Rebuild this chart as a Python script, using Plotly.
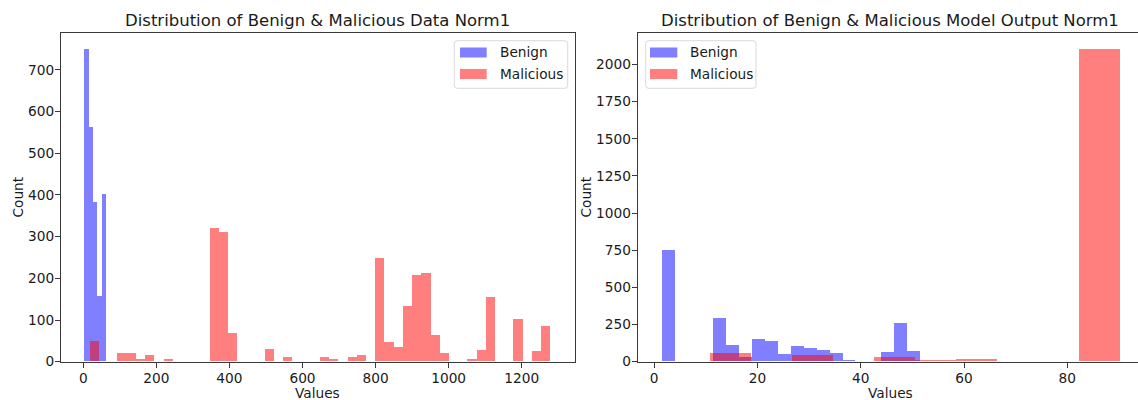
import numpy as np
import plotly.graph_objects as go

# ---------------- data ----------------
# Left panel: "Data Norm1"
data_benign_range = (2.7, 62.1)
data_benign_counts = [750, 562, 382, 156, 402]
data_mal_range = (18.0, 1278.0)
data_mal_counts = [50, 0, 0, 21, 19, 6, 16, 0, 6, 0,
                   0, 0, 0, 319, 310, 68, 0, 0, 0, 29,
                   0, 10, 0, 0, 0, 10, 6, 0, 11, 15,
                   0, 247, 46, 34, 134, 208, 211, 63, 19, 0,
                   0, 6, 27, 155, 0, 0, 102, 0, 24, 86]

# Right panel: "Model Output Norm1"
out_benign_range = (1.42, 51.42)
out_benign_counts = [749, 0, 0, 0, 289, 110, 29, 153, 135, 49,
                     105, 90, 76, 58, 7, 0, 4, 65, 258, 72]
out_mal_range = (10.65, 90.1)
out_mal_counts = [54, 0, 43, 0, 29, 11, 15, 0, 0, 2105]

left_title = "Distribution of Benign & Malicious Data Norm1"
right_title = "Distribution of Benign & Malicious Model Output Norm1"
series_names = ["Benign", "Malicious"]
x_label = "Values"
y_label = "Count"
left_xticks = [0, 200, 400, 600, 800, 1000, 1200]
left_yticks = [0, 100, 200, 300, 400, 500, 600, 700]
right_xticks = [0, 20, 40, 60, 80]
right_yticks = [0, 250, 500, 750, 1000, 1250, 1500, 1750, 2000]

# ---------------- styling ----------------
W, H = 1138, 400
BLUE = "rgba(0,0,255,0.5)"
RED = "rgba(255,0,0,0.5)"
FONT = "DejaVu Sans"
TXT = "#1a1a1a"
AX = "#3a3a3a"
TICK_FS = 13.7
LABEL_FS = 13.7
TITLE_FS = 16.5


def hist_bar(rng, counts, color, xa, ya):
    edges = np.linspace(rng[0], rng[1], len(counts) + 1)
    centers = (edges[:-1] + edges[1:]) / 2
    widths = np.diff(edges)
    return go.Bar(x=centers, y=counts, width=widths, xaxis=xa, yaxis=ya,
                  marker=dict(color=color, line=dict(width=0)),
                  showlegend=False, hoverinfo="skip")


fig = go.Figure()
fig.add_trace(hist_bar(data_benign_range, data_benign_counts, BLUE, "x", "y"))
fig.add_trace(hist_bar(data_mal_range, data_mal_counts, RED, "x", "y"))
fig.add_trace(hist_bar(out_benign_range, out_benign_counts, BLUE, "x2", "y2"))
fig.add_trace(hist_bar(out_mal_range, out_mal_counts, RED, "x2", "y2"))

# pixel geometry of the axes boxes
L1, R1 = 61.0, 574.7
L2, R2 = 637.7, 1138.0
TOP, BOT = 33.3, 361.7

ydom = [1 - BOT / H, 1 - TOP / H]

axis_common = dict(showgrid=False, zeroline=False, showline=True, linecolor=AX,
                   linewidth=1, ticks="outside", ticklen=5, tickwidth=1,
                   tickcolor=AX, automargin=False,
                   tickfont=dict(family=FONT, size=TICK_FS, color=TXT))
x_common = dict(ticklabelstandoff=-1, **axis_common)
y_common = dict(ticklabelstandoff=-2, **axis_common)

fig.update_layout(
    width=W, height=H,
    margin=dict(l=0, r=0, t=0, b=0, autoexpand=False),
    paper_bgcolor="white", plot_bgcolor="white",
    barmode="overlay", bargap=0,
    font=dict(family=FONT, color=TXT),
    xaxis=dict(domain=[L1 / W, R1 / W], range=[-61, 1345], tickvals=left_xticks,
               mirror=True, anchor="y", **x_common),
    yaxis=dict(domain=ydom, range=[0, 787.5], tickvals=left_yticks,
               mirror=True, anchor="x", **y_common),
    xaxis2=dict(domain=[L2 / W, R2 / W], range=[-3.2, 93.7], tickvals=right_xticks,
                mirror=True, anchor="y2", **x_common),
    yaxis2=dict(domain=ydom, range=[0, 2210], tickvals=right_yticks,
                mirror=False, anchor="x2", **y_common),
)

ann = []


def add_text(px, py, text, size, angle=0, xanchor="center"):
    ann.append(dict(x=px / W, y=1 - py / H, xref="paper", yref="paper",
                    text=text, showarrow=False, textangle=angle,
                    xanchor=xanchor, yanchor="middle",
                    font=dict(family=FONT, size=size, color=TXT)))


# titles
add_text((L1 + R1) / 2, 21, left_title, TITLE_FS)
add_text(890, 21, right_title, TITLE_FS)
# axis labels
add_text((L1 + R1) / 2, 393, x_label, LABEL_FS)
add_text(890, 393, x_label, LABEL_FS)
add_text(17, (TOP + BOT) / 2, y_label, LABEL_FS, angle=-90)
add_text(585, (TOP + BOT) / 2, y_label, LABEL_FS, angle=-90)

shapes = []


def rounded_rect(x0, y0, x1, y1, r=3):
    # pixel coords -> paper coords path with rounded corners
    def P(x, y):
        return f"{x / W:.5f},{1 - y / H:.5f}"
    return (f"M{P(x0 + r, y0)} L{P(x1 - r, y0)} Q{P(x1, y0)} {P(x1, y0 + r)} "
            f"L{P(x1, y1 - r)} Q{P(x1, y1)} {P(x1 - r, y1)} "
            f"L{P(x0 + r, y1)} Q{P(x0, y1)} {P(x0, y1 - r)} "
            f"L{P(x0, y0 + r)} Q{P(x0, y0)} {P(x0 + r, y0)} Z")


def legend(bx0, bx1, by0, by1, patch_x0, patch_x1, text_x, rows_y):
    shapes.append(dict(type="path", xref="paper", yref="paper",
                       path=rounded_rect(bx0, by0, bx1, by1),
                       line=dict(color="#d9d9d9", width=1),
                       fillcolor="rgba(255,255,255,0.8)", layer="above"))
    for name, color, ry in zip(series_names, [BLUE, RED], rows_y):
        shapes.append(dict(type="rect", xref="paper", yref="paper",
                           x0=patch_x0 / W, x1=patch_x1 / W,
                           y0=1 - (ry + 5) / H, y1=1 - (ry - 5) / H,
                           line=dict(width=0), fillcolor=color, layer="above"))
        add_text(text_x, ry, name, LABEL_FS, xanchor="left")


legend(454.3, 567.7, 40.7, 88.3, 460.0, 486.7, 497.5, [52.5, 74.0])
legend(645.7, 756.0, 40.7, 88.3, 650.0, 677.3, 687.5, [52.5, 74.0])

fig.update_layout(annotations=ann, shapes=shapes)

fig.write_html("out.html")
